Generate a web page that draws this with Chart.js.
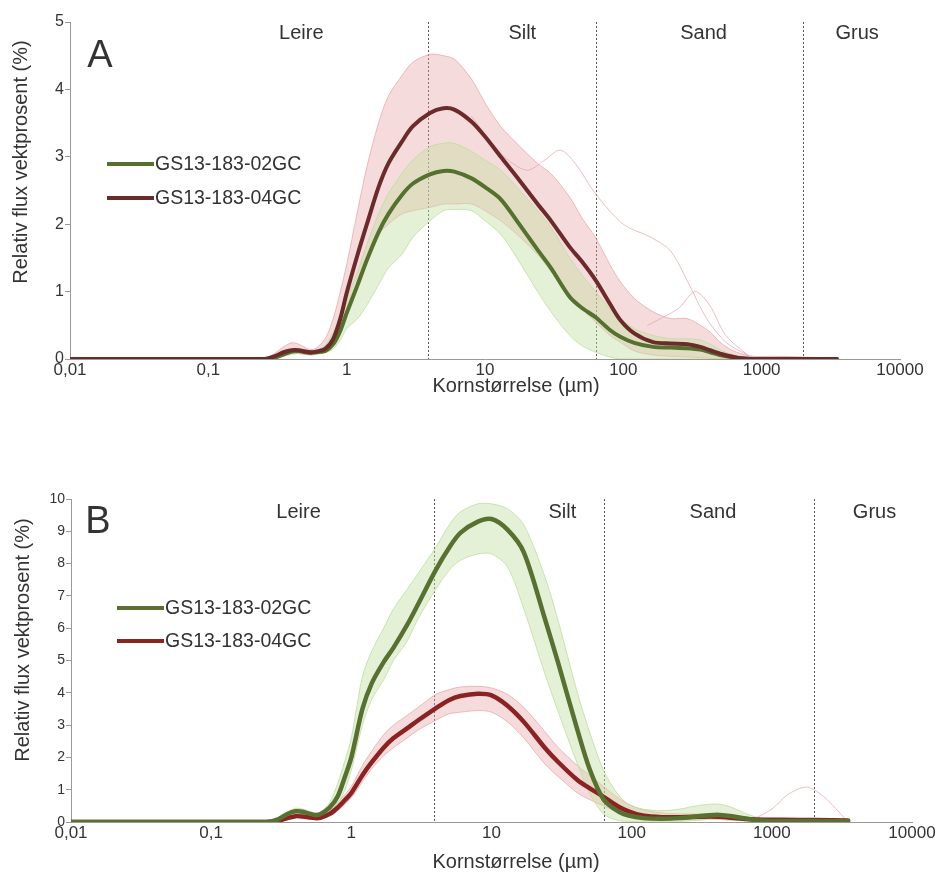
<!DOCTYPE html>
<html>
<head>
<meta charset="utf-8">
<script src="https://cdn.jsdelivr.net/npm/chart.js@4.4.1/dist/chart.umd.min.js"></script>
<style>
  body { margin: 0; background: #fff; }
  .panel { position: absolute; left: 0; width: 943px; }
  #wrapA { top: 0; height: 420px; }
  #wrapB { top: 440px; height: 435px; }
</style>
</head>
<body>
<div id="wrapA" class="panel"><canvas id="chartA"></canvas></div>
<div id="wrapB" class="panel"><canvas id="chartB"></canvas></div>
<script>
const FONT = '"Liberation Sans", Arial, sans-serif'

// grain size (µm) shared by all curves
const xs = [0.01, 0.25, 0.3, 0.35, 0.4, 0.45, 0.5, 0.55, 0.6, 0.7, 0.8, 0.9, 1, 1.2, 1.4, 1.7, 2, 2.5, 3, 4, 5, 6, 8, 10, 13, 17, 24, 30, 41, 50, 63, 80, 95, 120, 164, 220, 290, 360, 424, 520, 660, 870, 1200, 2000, 3500]
const xTicks = [0.01, 0.1, 1, 10, 100, 1000, 10000]
const boundaries = [3.9, 63, 2000]
const regionNames = ['Leire', 'Silt', 'Sand', 'Grus']
const seriesNames = ['GS13-183-02GC', 'GS13-183-04GC']
const yTitle = 'Relativ flux vektprosent (%)'
const xTitle = 'Kornstørrelse (µm)'

// panel A
const aGreen = [0, 0, 0.02, 0.07, 0.11, 0.12, 0.10, 0.09, 0.10, 0.12, 0.22, 0.42, 0.68, 1.1, 1.47, 1.88, 2.15, 2.43, 2.6, 2.74, 2.79, 2.78, 2.68, 2.55, 2.37, 2.05, 1.62, 1.35, 0.92, 0.76, 0.62, 0.43, 0.33, 0.24, 0.18, 0.17, 0.16, 0.14, 0.1, 0.05, 0.02, 0, 0, 0, 0]
const aRed = [0, 0, 0.04, 0.10, 0.13, 0.13, 0.11, 0.10, 0.11, 0.15, 0.3, 0.6, 0.98, 1.55, 2.0, 2.55, 2.9, 3.22, 3.45, 3.65, 3.72, 3.7, 3.52, 3.3, 3.0, 2.7, 2.3, 2.05, 1.66, 1.45, 1.17, 0.82, 0.58, 0.38, 0.25, 0.23, 0.22, 0.18, 0.13, 0.07, 0.02, 0, 0, 0, 0]
const aGreenHi = [0, 0, 0.04, 0.1, 0.15, 0.16, 0.14, 0.12, 0.13, 0.2, 0.4, 0.65, 0.9, 1.3, 1.7, 2.15, 2.45, 2.75, 2.95, 3.15, 3.2, 3.2, 3.08, 2.95, 2.8, 2.55, 2.2, 1.95, 1.5, 1.25, 1.0, 0.75, 0.6, 0.45, 0.35, 0.3, 0.3, 0.28, 0.22, 0.12, 0.05, 0.01, 0, 0, 0]
const aGreenLo = [0, 0, 0, 0.04, 0.07, 0.08, 0.07, 0.06, 0.07, 0.09, 0.15, 0.28, 0.45, 0.6, 0.8, 1.1, 1.35, 1.55, 1.8, 2.05, 2.2, 2.22, 2.2, 2.05, 1.85, 1.5, 1.0, 0.7, 0.35, 0.2, 0.1, 0.03, 0, 0, 0, 0, 0, 0, 0, 0, 0, 0, 0, 0, 0]
const aRedHi = [0, 0, 0.08, 0.18, 0.24, 0.22, 0.17, 0.14, 0.16, 0.3, 0.6, 1.0, 1.4, 2.2, 2.85, 3.5, 3.9, 4.2, 4.4, 4.52, 4.5, 4.45, 4.15, 3.8, 3.45, 3.2, 2.9, 2.75, 2.4, 2.1, 1.8, 1.4, 1.15, 0.9, 0.7, 0.6, 0.6, 0.5, 0.4, 0.22, 0.1, 0.04, 0.04, 0.03, 0]
const aRedLo = [0, 0, 0.01, 0.05, 0.08, 0.08, 0.07, 0.06, 0.07, 0.12, 0.25, 0.5, 0.75, 1.15, 1.5, 1.85, 2.0, 2.15, 2.2, 2.25, 2.3, 2.3, 2.3, 2.2, 2.05, 1.85, 1.55, 1.3, 0.95, 0.75, 0.55, 0.35, 0.25, 0.12, 0.06, 0.04, 0.03, 0.02, 0.01, 0, 0, 0, 0, 0, 0]
const aOut1X = [8, 13, 20, 27, 35, 45, 63, 100, 160, 220, 300, 400, 550, 800]
const aOut1Y = [3.6, 3.05, 2.8, 2.95, 3.1, 2.9, 2.45, 2.0, 1.8, 1.6, 1.1, 0.6, 0.25, 0.05]
const aOut2X = [150, 250, 330, 420, 550, 800]
const aOut2Y = [0.5, 0.75, 1.0, 0.8, 0.35, 0.05]

// panel B
const bGreen = [0, 0, 0.08, 0.25, 0.33, 0.32, 0.26, 0.22, 0.24, 0.45, 0.8, 1.4, 2.0, 3.5, 4.3, 4.95, 5.4, 6.1, 6.75, 7.8, 8.5, 8.95, 9.3, 9.38, 9.05, 8.35, 6.3, 4.9, 2.85, 1.65, 0.7, 0.33, 0.2, 0.12, 0.1, 0.12, 0.17, 0.21, 0.22, 0.18, 0.1, 0.04, 0.03, 0.03, 0.02]
const bRed = [0, 0, 0.04, 0.12, 0.18, 0.17, 0.14, 0.12, 0.13, 0.25, 0.45, 0.68, 0.9, 1.45, 1.85, 2.3, 2.6, 2.9, 3.15, 3.52, 3.78, 3.9, 3.97, 3.92, 3.6, 3.1, 2.3, 1.85, 1.3, 1.05, 0.78, 0.48, 0.33, 0.2, 0.15, 0.15, 0.16, 0.17, 0.16, 0.13, 0.09, 0.07, 0.07, 0.06, 0.05]
const bGreenHi = [0, 0, 0.12, 0.32, 0.42, 0.4, 0.33, 0.28, 0.3, 0.6, 1.2, 1.9, 2.6, 4.5, 5.3, 6.0, 6.6, 7.2, 7.7, 8.5, 9.2, 9.6, 9.85, 9.85, 9.7, 9.2, 7.6, 6.2, 4.0, 2.8, 1.6, 0.85, 0.55, 0.4, 0.35, 0.4, 0.5, 0.55, 0.55, 0.45, 0.25, 0.1, 0.05, 0.04, 0.03]
const bGreenLo = [0, 0, 0.04, 0.18, 0.26, 0.25, 0.2, 0.17, 0.18, 0.3, 0.55, 1.0, 1.6, 3.0, 3.8, 4.4, 5.0, 5.6, 6.3, 7.2, 7.8, 8.1, 8.3, 8.3, 7.9, 6.6, 4.6, 3.4, 1.8, 0.9, 0.25, 0.05, 0.02, 0.01, 0.01, 0.02, 0.05, 0.08, 0.08, 0.06, 0.03, 0.01, 0.01, 0.01, 0.01]
const bRedHi = [0, 0, 0.06, 0.16, 0.22, 0.21, 0.18, 0.15, 0.16, 0.35, 0.6, 0.85, 1.1, 1.75, 2.2, 2.7, 3.0, 3.3, 3.55, 3.95, 4.1, 4.18, 4.2, 4.15, 3.95, 3.55, 2.8, 2.3, 1.75, 1.45, 1.1, 0.75, 0.55, 0.38, 0.28, 0.25, 0.25, 0.26, 0.25, 0.2, 0.15, 0.12, 0.1, 0.08, 0.06]
const bRedLo = [0, 0, 0.02, 0.08, 0.14, 0.13, 0.11, 0.1, 0.1, 0.18, 0.35, 0.55, 0.75, 1.25, 1.65, 2.05, 2.3, 2.6, 2.85, 3.15, 3.35, 3.4, 3.45, 3.4, 3.1, 2.6, 1.8, 1.4, 0.9, 0.7, 0.5, 0.3, 0.2, 0.1, 0.07, 0.07, 0.08, 0.09, 0.08, 0.06, 0.04, 0.03, 0.03, 0.03, 0.03]
const bOutX = [700, 1000, 1300, 1780, 2400, 3400]
const bOutY = [0.03, 0.4, 0.85, 1.08, 0.75, 0.05]

const pink = 'rgba(232,160,165,0.38)'
const pinkLine = 'rgba(232,160,165,0.7)'
const lime = 'rgba(198,224,165,0.45)'
const limeLine = 'rgba(190,220,160,0.8)'

const pts = (ys) => xs.map((x, i) => ({ x, y: ys[i] }))
const ptsXY = (xa, ya) => xa.map((x, i) => ({ x, y: ya[i] }))

function band(hi, lo, fillCol, lineCol, order) {
  return [
    { data: pts(hi), borderColor: lineCol, borderWidth: 1, backgroundColor: fillCol, fill: '+1', order },
    { data: pts(lo), borderColor: lineCol, borderWidth: 1, fill: false, order },
  ]
}

function makeDecor(cfg) {
  return {
    id: 'decor',
    beforeDatasetsDraw(chart) {
      const { ctx, chartArea: a } = chart
      const x = chart.scales.x
      ctx.save()
      ctx.setLineDash([2, 2])
      ctx.strokeStyle = '#555'
      ctx.lineWidth = 1
      boundaries.forEach((b) => {
        const px = Math.round(x.getPixelForValue(b)) + 0.5
        ctx.beginPath()
        ctx.moveTo(px, a.top)
        ctx.lineTo(px, a.bottom)
        ctx.stroke()
      })
      ctx.restore()
    },
    afterDraw(chart) {
      const { ctx, chartArea: a } = chart
      const x = chart.scales.x
      ctx.save()
      ctx.fillStyle = '#333'
      ctx.textAlign = 'center'
      ctx.textBaseline = 'middle'
      ctx.font = `20px ${FONT}`
      regionNames.forEach((n, i) => ctx.fillText(n, x.getPixelForValue(cfg.regionAt[i]), a.top + cfg.regionDy))

      ctx.font = `38px ${FONT}`
      ctx.textBaseline = 'alphabetic'
      ctx.fillText(cfg.letter, cfg.letterX, cfg.letterY)

      ctx.font = `19.5px ${FONT}`
      ctx.textAlign = 'left'
      ctx.textBaseline = 'middle'
      seriesNames.forEach((name, i) => {
        const y = cfg.legY[i]
        ctx.strokeStyle = cfg.colors[i]
        ctx.lineWidth = 4
        ctx.beginPath()
        ctx.moveTo(cfg.legX, y)
        ctx.lineTo(cfg.legX + 47, y)
        ctx.stroke()
        ctx.fillText(name, cfg.legX + 48, y + 1)
      })

      ctx.font = `20px ${FONT}`
      ctx.textAlign = 'center'
      ctx.fillText(xTitle, cfg.xTitleX, cfg.xTitleY)
      ctx.translate(cfg.yTitleX, cfg.yTitleY)
      ctx.rotate(-Math.PI / 2)
      ctx.fillText(yTitle, 0, 0)
      ctx.restore()
    },
  }
}

function makeOptions(yMax, yFont, yWidth, xAxisH, pad) {
  return {
    responsive: true,
    maintainAspectRatio: false,
    animation: false,
    events: [],
    layout: { padding: pad },
    elements: {
      point: { radius: 0 },
      line: { tension: 0.3, borderCapStyle: 'round', borderJoinStyle: 'round' },
    },
    plugins: { legend: { display: false }, tooltip: { enabled: false } },
    scales: {
      x: {
        type: 'logarithmic',
        min: 0.01,
        max: 10000,
        afterBuildTicks: (s) => {
          s.ticks = xTicks.map((v) => ({ value: v }))
        },
        ticks: {
          callback: (v) => String(v).replace('.', ','),
          font: { size: 17, family: FONT },
          color: '#333',
          padding: 1,
          maxRotation: 0,
          autoSkip: false,
        },
        grid: { display: true, drawOnChartArea: false, drawTicks: false },
        border: { color: '#999', width: 1 },
        afterFit: (s) => {
          s.height = xAxisH
        },
      },
      y: {
        min: 0,
        max: yMax,
        ticks: { stepSize: 1, font: { size: yFont, family: FONT }, color: '#333', padding: 1 },
        grid: { display: true, drawOnChartArea: false, tickLength: 5, color: '#999' },
        border: { color: '#999', width: 1 },
        afterFit: (s) => {
          s.width = yWidth
        },
      },
    },
  }
}

// ---- Panel A
const aGreenCol = '#55702f'
const aRedCol = '#6b2b2b'
new Chart(document.getElementById('chartA'), {
  type: 'line',
  data: {
    datasets: [
      { data: pts(aRed), borderColor: aRedCol, borderWidth: 4, order: 0 },
      { data: pts(aGreen), borderColor: aGreenCol, borderWidth: 4, order: 1 },
      { data: ptsXY(aOut1X, aOut1Y), borderColor: pinkLine, borderWidth: 1, order: 4 },
      { data: ptsXY(aOut2X, aOut2Y), borderColor: pinkLine, borderWidth: 1, order: 4 },
      ...band(aGreenHi, aGreenLo, lime, limeLine, 5),
      ...band(aRedHi, aRedLo, pink, pinkLine, 6),
    ],
  },
  options: makeOptions(5, 16, 70, 61, { top: 22, right: 43, left: 0, bottom: 0 }),
  plugins: [
    makeDecor({
      regionAt: [0.47, 18.6, 380, 4900],
      regionDy: 11,
      letter: 'A',
      letterX: 100,
      letterY: 67,
      legX: 107,
      legY: [164, 198],
      colors: [aGreenCol, aRedCol],
      xTitleX: 516,
      xTitleY: 386,
      yTitleX: 21,
      yTitleY: 162,
    }),
  ],
})

// ---- Panel B
const bGreenCol = '#587132'
const bRedCol = '#8a2323'
new Chart(document.getElementById('chartB'), {
  type: 'line',
  data: {
    datasets: [
      { data: pts(bGreen), borderColor: bGreenCol, borderWidth: 4.5, order: 0 },
      { data: pts(bRed), borderColor: bRedCol, borderWidth: 4.5, order: 1 },
      { data: ptsXY(bOutX, bOutY), borderColor: pinkLine, borderWidth: 1, order: 4 },
      ...band(bGreenHi, bGreenLo, lime, limeLine, 5),
      ...band(bRedHi, bRedLo, pink, pinkLine, 6),
    ],
  },
  options: makeOptions(10, 14, 71, 53, { top: 59, right: 31, left: 0, bottom: 0 }),
  plugins: [
    makeDecor({
      regionAt: [0.42, 32, 380, 5400],
      regionDy: 13,
      letter: 'B',
      letterX: 98,
      letterY: 93,
      legX: 117,
      legY: [168, 201],
      colors: [bGreenCol, bRedCol],
      xTitleX: 516,
      xTitleY: 422,
      yTitleX: 23,
      yTitleY: 200,
    }),
  ],
})
</script>
</body>
</html>
